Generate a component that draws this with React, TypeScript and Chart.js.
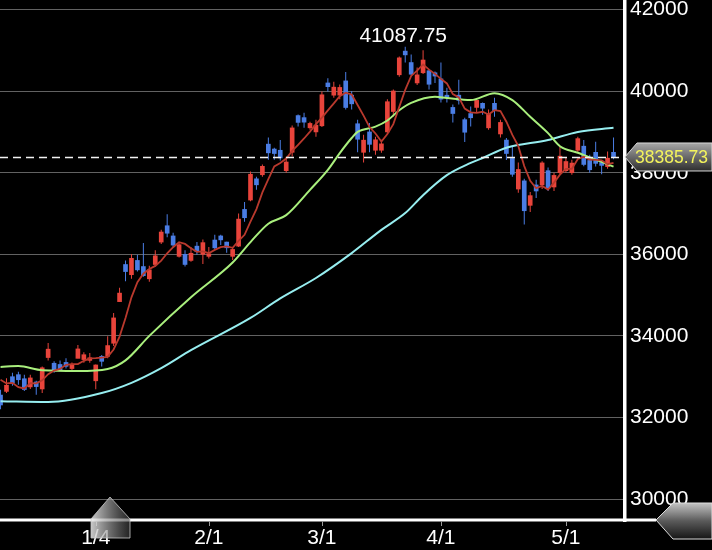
import React, { useEffect, useRef } from "react";
import { Chart, registerables } from "chart.js";

Chart.register(...registerables);

// Trading days (M/D)
const dates = [
  "12/8", "12/11", "12/12", "12/13", "12/14", "12/15", "12/18", "12/19", "12/20", "12/21", "12/22", "12/25", "12/26", "12/27", "12/28", "12/29",
  "1/4", "1/5", "1/9", "1/10", "1/11", "1/12", "1/15", "1/16", "1/17", "1/18", "1/19", "1/22", "1/23", "1/24", "1/25", "1/26", "1/29", "1/30", "1/31",
  "2/1", "2/2", "2/5", "2/6", "2/7", "2/8", "2/9", "2/13", "2/14", "2/15", "2/16", "2/19", "2/20", "2/21", "2/22", "2/26", "2/27", "2/28", "2/29",
  "3/1", "3/4", "3/5", "3/6", "3/7", "3/8", "3/11", "3/12", "3/13", "3/14", "3/15", "3/18", "3/19", "3/21", "3/22", "3/25", "3/26", "3/27", "3/28", "3/29",
  "4/1", "4/2", "4/3", "4/4", "4/5", "4/8", "4/9", "4/10", "4/11", "4/12", "4/15", "4/16", "4/17", "4/18", "4/19", "4/22", "4/23", "4/24", "4/25", "4/26", "4/30",
  "5/1", "5/2", "5/7", "5/8", "5/9", "5/10", "5/13", "5/14", "5/15",
];

const opens = [
  32550, 32640, 33000, 33050, 32950, 32750, 32870, 32700, 33470, 33330, 33300, 33350, 33200, 33450, 33420, 33400,
  32900, 33500, 33500, 33820, 34840, 35750, 35500, 35850, 35700, 35400, 35750, 36300, 36700, 36450, 35950, 36000, 35850, 36200, 36000,
  35950, 36350, 36450, 36300, 35950, 36200, 37100, 37330, 37850, 37950, 38700, 38580, 38550, 38050, 38500, 39400, 39350, 39100, 39000,
  39150, 40200, 39900, 39900, 40250, 39900, 39200, 38500, 39000, 38550, 38550, 39000, 39500, 40400, 40980, 40700, 40200, 40450, 40500, 40450,
  40300, 39900, 39600, 39900, 39300, 39450, 39600, 39700, 39100, 39700, 38950, 38800, 38350, 37600, 37800, 37200, 37700, 37700, 38050, 37650, 38000,
  38050, 38000, 38550, 38650, 38300, 38500, 38250, 38150, 38500,
];

const highs = [
  32680, 32960, 33100, 33120, 33050, 33050, 32900, 33250, 33824, 33380, 33400, 33450, 33350, 33780, 33600, 33580,
  33300, 33530, 33990, 34560, 35180, 35850, 36000, 35990, 36280, 35720, 36100, 36600, 36984, 36530, 36300, 36100, 36180, 36300, 36360,
  36180, 36480, 36480, 36310, 36170, 37000, 37280, 38030, 37900, 38200, 38865, 38610, 38800, 38390, 39156, 39426, 39470, 39250, 39300,
  39990, 40314, 40230, 40160, 40470, 40000, 39300, 38930, 39220, 38880, 38810, 39800, 40040, 40850, 41087.75, 40900, 40580, 41000, 40530, 40480,
  40700, 40080, 39670, 40280, 39350, 39620, 39800, 39720, 39550, 39840, 39300, 38850, 38640, 38250, 37850, 37530, 37830, 38280, 38130, 38000, 38640,
  38370, 38320, 38880, 38800, 38440, 38760, 38300, 38520, 38860,
];

const lows = [
  32200, 32600, 32780, 32800, 32650, 32700, 32560, 32600, 33400, 33100, 33150, 33200, 33150, 33450, 33340, 33340,
  32693, 33250, 33450, 33750, 34830, 35340, 35400, 35580, 35450, 35330, 35700, 36250, 36420, 36180, 35920, 35700, 35820, 35990, 35760,
  35900, 36110, 36230, 36040, 35860, 36180, 36800, 37300, 37580, 37900, 38320, 38320, 38300, 38000, 38400, 39130, 39100, 39050, 38880,
  39120, 39990, 39840, 39800, 39550, 39550, 38500, 38250, 38500, 38440, 38490, 38940, 39380, 40350, 40700, 40380, 40150, 40420, 40040, 40200,
  39720, 39720, 39230, 39670, 38750, 39130, 39470, 39420, 39050, 39370, 38860, 38310, 37900, 37510, 36733, 37040, 37380, 37600, 37550, 37550, 37970,
  38000, 37950, 38500, 38160, 38000, 38150, 37960, 38100, 38330,
];

const closes = [
  32307, 32791, 32843, 32926, 32686, 32970, 32758, 33219, 33675, 33140, 33169, 33254, 33305, 33681, 33539, 33464,
  33288, 33377, 33763, 34441, 35049, 35577, 35901, 35619, 35477, 35620, 35963, 36546, 36517, 36226, 36236, 35751, 36026, 36065, 36286,
  36011, 36158, 36354, 36160, 36119, 36863, 36897, 37963, 37703, 38157, 38487, 38470, 38363, 38262, 39098, 39233, 39239, 39208, 39166,
  39910, 40109, 40097, 40090, 39598, 39688, 38820, 38797, 38695, 38807, 38707, 39740, 40003, 40815, 40888, 40414, 40398, 40762, 40168, 40369,
  39803, 39838, 39451, 39773, 38992, 39347, 39773, 39581, 39442, 39523, 39232, 38471, 37961, 38079, 37068, 37438, 37552, 38240, 37628, 37934, 38405,
  38274, 38236, 38835, 38202, 38073, 38229, 38179, 38356, 38385.73,
];

// 5-day moving average (one value per trading day)
const ma5 = [
  32923, 32835, 32849, 32745, 32711, 32843, 32837, 32912, 33062, 33152, 33192, 33291, 33309, 33310, 33390, 33449,
  33455, 33470, 33486, 33667, 33984, 34441, 34946, 35317, 35525, 35639, 35716, 35845, 36025, 36174, 36298, 36255, 36151, 36061, 36073,
  36028, 36109, 36175, 36194, 36160, 36331, 36479, 36800, 37109, 37517, 37841, 38156, 38236, 38348, 38536, 38685, 38839, 39008, 39189,
  39351, 39526, 39698, 39874, 39961, 39916, 39659, 39399, 39120, 38961, 38765, 38949, 39190, 39614, 40031, 40372, 40504, 40655, 40526, 40422,
  40300, 40188, 39926, 39847, 39571, 39480, 39467, 39493, 39427, 39533, 39510, 39250, 38926, 38653, 38162, 37803, 37620, 37675, 37585, 37758, 37952,
  38096, 38095, 38337, 38390, 38324, 38315, 38304, 38208, 38244,
];

// 25-day moving average, read at these trading-day positions
const ma25Idx = [0, 3, 7, 13, 18, 21, 25, 32, 39, 42, 45, 48, 52, 55, 57, 59, 60, 63, 65, 67, 69, 73, 75, 79, 83, 86, 89, 92, 94, 97, 100, 103];
const ma25Val = [33240, 33260, 33160, 33140, 33190, 33400, 34000, 34950, 35800, 36300, 36750, 36960, 37580, 38070, 38480, 38850, 39000, 39130, 39280, 39530, 39710, 39860, 39830, 39780, 39950, 39780, 39370, 38970, 38650, 38490, 38320, 38150];

// 75-day moving average, read at these trading-day positions
const ma75Idx = [0, 8, 17, 22, 27, 32, 42, 47, 53, 59, 64, 68, 71, 75, 79, 81, 85, 92, 97, 103];
const ma75Val = [32400, 32380, 32600, 32850, 33210, 33650, 34440, 34920, 35420, 36030, 36600, 37010, 37450, 37940, 38240, 38360, 38610, 38800, 39000, 39100];

const yTickValues = [30000, 32000, 34000, 36000, 38000, 40000, 42000];
const xTickDates = ["1/4", "2/1", "3/1", "4/1", "5/1"];

const UP = "#e8443b";
const DOWN = "#4a7de4";
const FONT = "'Liberation Sans', Arial, Helvetica, sans-serif";

export default function App() {
  const ref = useRef<HTMLCanvasElement>(null);

  useEffect(() => {
    document.body.style.margin = "0";
    document.body.style.background = "#000";
    const canvas = ref.current as HTMLCanvasElement;
    const idx = dates.map((_, i) => i);
    const colorFor = (i: number) => (closes[i] >= opens[i] ? UP : DOWN);

    const overlay = {
      id: "overlay",
      afterDatasetsDraw(chart: any) {
        const { ctx, chartArea, scales } = chart;
        const x = scales.x;
        const y = scales.y;
        const last = closes[closes.length - 1];
        const py = Math.round(y.getPixelForValue(last)) + 0.5;
        ctx.save();
        ctx.strokeStyle = "#f2f2f2";
        ctx.lineWidth = 1.5;
        ctx.setLineDash([8, 5]);
        ctx.beginPath();
        ctx.moveTo(chartArea.left, py);
        ctx.lineTo(chartArea.right, py);
        ctx.stroke();
        ctx.setLineDash([]);

        // high label
        let hi = 0;
        highs.forEach((h, i) => {
          if (h > highs[hi]) hi = i;
        });
        ctx.font = `21px ${FONT}`;
        ctx.fillStyle = "#ffffff";
        ctx.textAlign = "center";
        ctx.textBaseline = "alphabetic";
        ctx.fillText(highs[hi].toFixed(2), x.getPixelForValue(hi) - 2, y.getPixelForValue(highs[hi]) - 5);
        ctx.restore();
      },
      afterDraw(chart: any) {
        const { ctx, chartArea, scales, width } = chart;
        const x = scales.x;
        const y = scales.y;
        ctx.save();
        // axis frame lines
        ctx.fillStyle = "#ffffff";
        ctx.fillRect(chartArea.right - 1, 0, 3.5, chartArea.bottom + 2);
        ctx.fillRect(0, chartArea.bottom - 1.5, chartArea.right + 32, 3);

        // date tick marks
        ctx.strokeStyle = "#9a9a9a";
        ctx.lineWidth = 1;
        xTickDates.forEach((d) => {
          const px = Math.round(x.getPixelForValue(dates.indexOf(d))) + 0.5;
          ctx.beginPath();
          ctx.moveTo(px, chartArea.bottom + 1.5);
          ctx.lineTo(px, chartArea.bottom + 6);
          ctx.stroke();
        });

        // last price tag
        const last = closes[closes.length - 1];
        const ty = y.getPixelForValue(last);
        const tx = chartArea.right + 1;
        ctx.beginPath();
        ctx.moveTo(tx, ty);
        ctx.lineTo(tx + 12, ty - 14);
        ctx.lineTo(width, ty - 14);
        ctx.lineTo(width, ty + 14);
        ctx.lineTo(tx + 12, ty + 14);
        ctx.closePath();
        const g1 = ctx.createLinearGradient(0, ty - 14, 0, ty + 14);
        g1.addColorStop(0, "#a8a8a8");
        g1.addColorStop(0.5, "#6a6a6a");
        g1.addColorStop(1, "#2e2e2e");
        ctx.fillStyle = g1;
        ctx.fill();
        ctx.strokeStyle = "#d6d6d6";
        ctx.lineWidth = 1;
        ctx.stroke();
        ctx.fillStyle = "#f3f35c";
        ctx.font = `17.5px ${FONT}`;
        ctx.textAlign = "left";
        ctx.textBaseline = "middle";
        ctx.fillText(last.toFixed(2), tx + 10, ty + 1);

        // bottom-right scroll tag
        const by = chartArea.bottom;
        const bx = chartArea.right + 32;
        ctx.beginPath();
        ctx.moveTo(bx, by);
        ctx.lineTo(bx + 17, by - 17);
        ctx.lineTo(width, by - 17);
        ctx.lineTo(width, by + 19);
        ctx.lineTo(bx + 17, by + 19);
        ctx.closePath();
        const g2 = ctx.createLinearGradient(0, by - 17, 0, by + 19);
        g2.addColorStop(0, "#c4c4c4");
        g2.addColorStop(0.5, "#5a5a5a");
        g2.addColorStop(1, "#151515");
        ctx.fillStyle = g2;
        ctx.fill();
        ctx.strokeStyle = "#dcdcdc";
        ctx.stroke();

        // bottom-left cursor
        const cx = 110;
        ctx.beginPath();
        ctx.moveTo(cx - 19, by - 1);
        ctx.lineTo(cx, by - 23);
        ctx.lineTo(cx + 20, by - 1);
        ctx.lineTo(cx + 20, by + 18);
        ctx.lineTo(cx - 19, by + 18);
        ctx.closePath();
        const g3 = ctx.createLinearGradient(cx - 19, 0, cx + 20, 0);
        g3.addColorStop(0, "rgba(235,235,235,0.85)");
        g3.addColorStop(1, "rgba(60,60,60,0.6)");
        ctx.fillStyle = g3;
        ctx.fill();
        ctx.strokeStyle = "rgba(200,200,200,0.8)";
        ctx.stroke();
        ctx.restore();
      },
    };

    const chart = new Chart(canvas, {
      type: "bar",
      data: {
        datasets: [
          {
            type: "line",
            label: "MA5",
            data: idx.map((i) => ({ x: i, y: ma5[i] })),
            borderColor: "#b9392d",
            borderWidth: 1.8,
            pointRadius: 0,
            tension: 0,
            order: 1,
          },
          {
            type: "line",
            label: "MA25",
            data: ma25Idx.map((x, k) => ({ x, y: ma25Val[k] })),
            borderColor: "#a9ef7d",
            borderWidth: 2,
            pointRadius: 0,
            cubicInterpolationMode: "monotone",
            order: 2,
          },
          {
            type: "line",
            label: "MA75",
            data: ma75Idx.map((x, k) => ({ x, y: ma75Val[k] })),
            borderColor: "#97eef0",
            borderWidth: 2,
            pointRadius: 0,
            cubicInterpolationMode: "monotone",
            order: 3,
          },
          {
            type: "bar",
            label: "wick",
            data: idx.map((i) => ({ x: i, y: [lows[i], highs[i]] })),
            backgroundColor: idx.map(colorFor),
            barThickness: 1,
            grouped: false,
            inflateAmount: 0,
            borderWidth: 0,
            order: 5,
          },
          {
            type: "bar",
            label: "body",
            data: idx.map((i) => ({ x: i, y: [opens[i], closes[i]] })),
            backgroundColor: idx.map(colorFor),
            barThickness: 4,
            minBarLength: 1,
            grouped: false,
            borderWidth: 0,
            order: 4,
          },
        ],
      } as any,
      options: {
        animation: false,
        responsive: false,
        maintainAspectRatio: false,
        devicePixelRatio: 1,
        layout: { padding: 0 },
        plugins: { legend: { display: false }, tooltip: { enabled: false } },
        scales: {
          x: {
            type: "linear",
            position: "bottom",
            min: -0.09,
            max: 104.76,
            offset: false,
            afterFit: (s: any) => {
              s.height = 30;
              s.paddingLeft = 0;
              s.paddingRight = 0;
            },
            afterBuildTicks: (s: any) => {
              s.ticks = xTickDates.map((d) => ({ value: dates.indexOf(d) }));
            },
            ticks: {
              color: "#ffffff",
              font: { family: FONT, size: 21 },
              padding: 6,
              maxRotation: 0,
              autoSkip: false,
              callback: (v: any) => dates[v],
            },
            grid: { display: false, drawOnChartArea: false, drawTicks: false, offset: false },
            border: { display: false },
          },
          y: {
            type: "linear",
            position: "right",
            min: 29488,
            max: 42233,
            afterFit: (s: any) => {
              s.width = 88;
              s.paddingTop = 0;
              s.paddingBottom = 0;
            },
            afterBuildTicks: (s: any) => {
              s.ticks = yTickValues.map((v) => ({ value: v }));
            },
            ticks: {
              color: "#ffffff",
              font: { family: FONT, size: 21 },
              padding: 6,
              callback: (v: any) => String(v),
            },
            grid: { color: "#626262", lineWidth: 1, drawTicks: false },
            border: { display: false },
          },
        },
      } as any,
      plugins: [overlay],
    });
    return () => chart.destroy();
  }, []);

  return (
    <div style={{ width: 712, height: 550, background: "#000", position: "relative" }}>
      <canvas ref={ref} width={712} height={550} style={{ display: "block" }} />
    </div>
  );
}
